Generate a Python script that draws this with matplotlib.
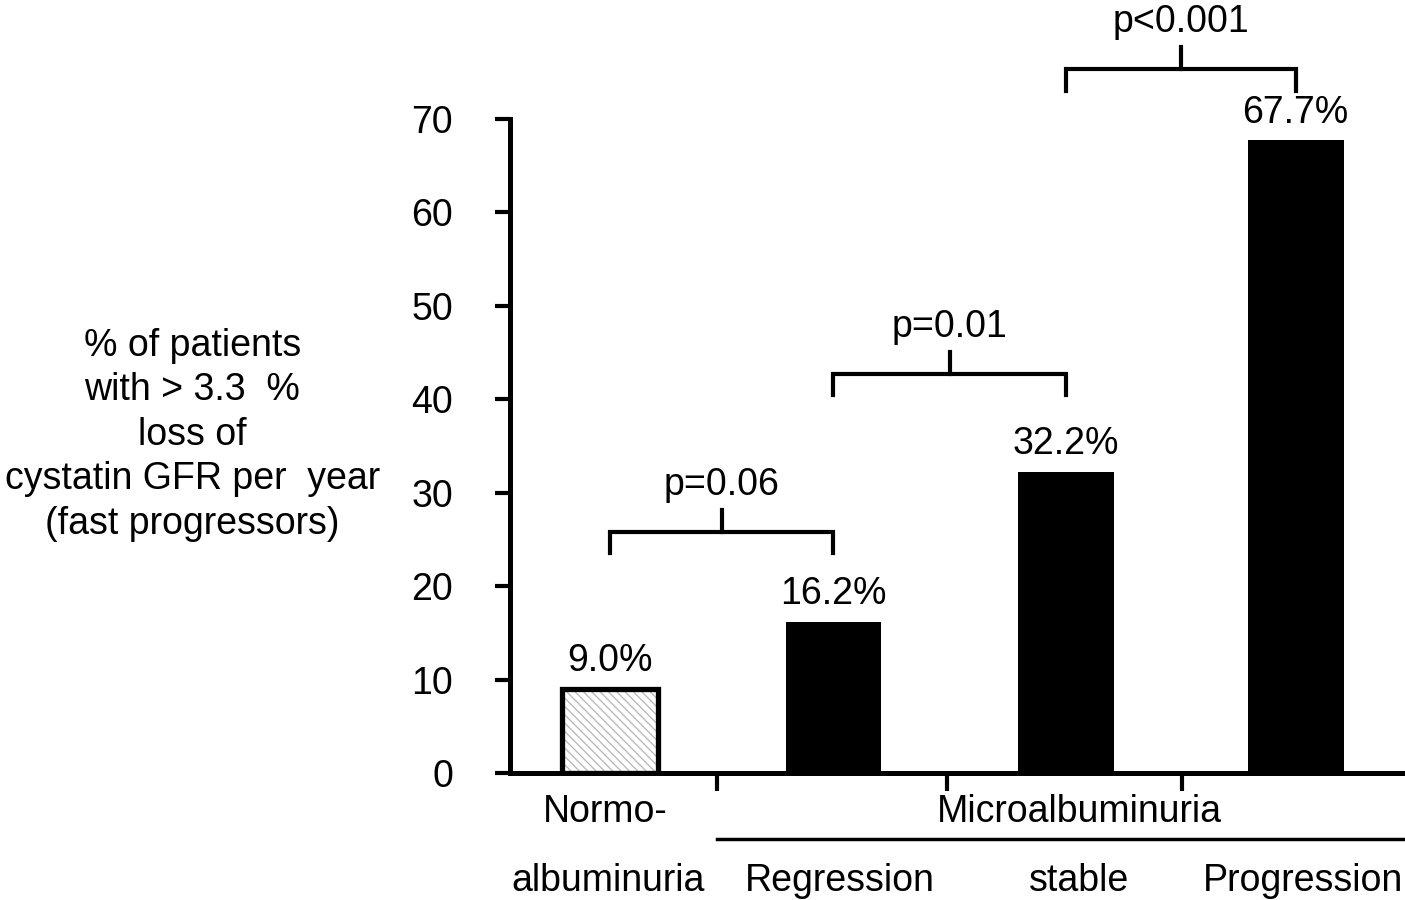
import matplotlib.pyplot as plt

plt.rcParams['font.family'] = ['Liberation Sans', 'DejaVu Sans']
plt.rcParams['hatch.linewidth'] = 0.9

# data
groups = ["Normo-\nalbuminuria", "Regression", "stable", "Progression"]
values = [9.0, 16.2, 32.2, 67.7]
value_labels = ["9.0%", "16.2%", "32.2%", "67.7%"]
comparisons = [(0, 1, "p=0.06"), (1, 2, "p=0.01"), (2, 3, "p<0.001")]
bracket_heights = [25.8, 42.7, 75.3]
yticks = [0, 10, 20, 30, 40, 50, 60, 70]

fig = plt.figure(figsize=(14.05, 9), dpi=100)
ax = fig.add_axes([0.363, 0.141, 0.637, 0.727])

x = [0, 0.98, 2.0, 3.01]
fs = 27

# bars: hatched fill in light grey, black outline drawn on top
ax.bar(x[0], values[0], width=0.42, facecolor="white", edgecolor="#b5b5b5",
       linewidth=0, hatch="\\\\\\\\", zorder=2)
ax.bar(x[0], values[0], width=0.42, facecolor="none", edgecolor="black",
       linewidth=3.8, zorder=3)
ax.bar(x[1:], values[1:], width=0.42, color="black", zorder=2)

for xi, v, lab in zip(x, values, value_labels):
    ax.annotate(lab, (xi, v), xytext=(0, 7), textcoords="offset points",
                ha="center", va="bottom", fontsize=fs)

# brackets
for (a, b, ptxt), h in zip(comparisons, bracket_heights):
    xa, xb = x[a], x[b]
    ax.plot([xa, xa, xb, xb], [h - 2.3, h, h, h - 2.3], color="black", lw=3,
            solid_joinstyle="miter", clip_on=False)
    mid = (xa + xb) / 2
    ax.plot([mid, mid], [h, h + 2.4], color="black", lw=3, clip_on=False)
    ax.text(mid, h + 3.1, ptxt, ha="center", va="bottom", fontsize=fs)

ax.set_xlim(-0.44, 3.49)
ax.set_ylim(0, 70)
ax.set_yticks(yticks)
ax.tick_params(axis="y", length=11, width=3, labelsize=fs, pad=30)
ax.set_xticks([0.47, 1.48, 2.51])
ax.set_xticklabels([])
ax.tick_params(axis="x", length=13, width=3)
for s in ["top", "right"]:
    ax.spines[s].set_visible(False)
for s in ["left", "bottom"]:
    ax.spines[s].set_linewidth(3.6)

# x labels
ax.text(-0.02, -4.2, "Normo-", ha="center", va="center", fontsize=fs)
ax.text(-0.01, -11.5, "albuminuria", ha="center", va="center", fontsize=fs)
ax.text(2.06, -4.2, "Microalbuminuria", ha="center", va="center", fontsize=fs)
ax.plot([0.47, 3.49], [-7.0, -7.0], color="black", lw=2.5, clip_on=False)
for xi, g in zip([1.01, 2.06, 3.04], groups[1:]):
    ax.text(xi, -11.5, g, ha="center", va="center", fontsize=fs)

fig.text(0.137, 0.517,
         "% of patients\nwith > 3.3  %\nloss of\ncystatin GFR per  year\n(fast progressors)",
         ha="center", va="center", fontsize=fs, linespacing=1.3)

fig.savefig("out.png", dpi=100)
